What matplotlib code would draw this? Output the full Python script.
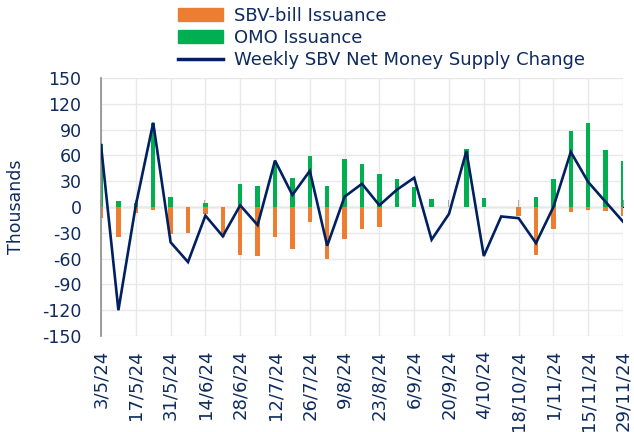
import matplotlib
matplotlib.use("Agg")
import matplotlib.pyplot as plt
from matplotlib.patches import Patch
from matplotlib.lines import Line2D

dates = ["3/5/24", "10/5/24", "17/5/24", "24/5/24", "31/5/24", "7/6/24", "14/6/24", "21/6/24",
         "28/6/24", "5/7/24", "12/7/24", "19/7/24", "26/7/24", "2/8/24", "9/8/24", "16/8/24",
         "23/8/24", "30/8/24", "6/9/24", "13/9/24", "20/9/24", "27/9/24", "4/10/24", "11/10/24",
         "18/10/24", "25/10/24", "1/11/24", "8/11/24", "15/11/24", "22/11/24", "29/11/24"]

sbv_bill = [-13, -35, -7, -4, -31, -30, -8, -35, -56, -57, -35, -49, -17, -60, -37, -26,
            -23, 0, 0, 0, 0, 0, 0, 0, -10, -56, -25, -6, -4, -5, -10]
omo = [73, 7, 5, 98, 12, 0, 5, 0, 27, 24, 52, 34, 59, 24, 56, 50,
       38, 33, 23, 9, 0, 67, 10, 0, 0, 12, 33, 88, 98, 66, 53]
net_change = [72, -120, 2, 98, -41, -64, -10, -34, 2, -21, 54, 14, 42, -45, 12, 27,
              2, 20, 34, -38, -8, 65, -57, -11, -13, -42, 0, 64, 29, 6, -17]

yticks = [150, 120, 90, 60, 30, 0, -30, -60, -90, -120, -150]

NAVY = "#002060"
ORANGE = "#ED7D31"
GREEN = "#00B050"
TEXT = "#0E2A5E"

plt.rcParams["font.family"] = ["DejaVu Sans"]

fig = plt.figure(figsize=(6.34, 4.32), dpi=100)
ax = fig.add_axes([101/634, 1 - 336/432, 522/634, 258/432])

x = list(range(len(dates)))
w = 0.25
ax.bar(x, sbv_bill, width=w, color=ORANGE, zorder=2)
ax.bar(x, omo, width=w, color=GREEN, zorder=2)
ax.plot(x, net_change, color=NAVY, lw=1.9, zorder=4, solid_joinstyle="miter")

ax.set_xlim(0, len(dates) - 1)
ax.set_ylim(-150, 150)
ax.set_yticks(yticks)
ax.set_yticklabels([str(v) for v in yticks], fontsize=12.5, color=TEXT)

ticks = x[::2]
ax.set_xticks(ticks)
ax.set_xticklabels([dates[i] for i in ticks], rotation=90, fontsize=13, color=TEXT, va="top")
ax.tick_params(axis="x", length=0, pad=10)
ax.tick_params(axis="y", length=0, pad=14)

ax.grid(True, color="#E8E8E8", lw=1.0, zorder=0)
ax.set_axisbelow(True)
for s in ["top", "right", "bottom"]:
    ax.spines[s].set_visible(False)
ax.spines["left"].set_color("#8C8C8C")
ax.spines["left"].set_linewidth(1.2)

# zero axis with tick marks
sec = ax.secondary_xaxis(0.5)
sec.set_xticks(ticks)
sec.set_xticklabels([])
sec.tick_params(axis="x", length=5, width=1.2, color="#8C8C8C", direction="out")
sec.spines["bottom"].set_color("#8C8C8C")
sec.spines["bottom"].set_linewidth(1.2)

ax.set_ylabel("Thousands", fontsize=12.5, color=TEXT)
ax.yaxis.set_label_coords(-76/522, 0.5)

handles = [Patch(facecolor=ORANGE, edgecolor=ORANGE),
           Patch(facecolor=GREEN, edgecolor=GREEN),
           Line2D([0], [0], color=NAVY, lw=2.5)]
labels = ["SBV-bill Issuance", "OMO Issuance", "Weekly SBV Net Money Supply Change"]
leg = fig.legend(handles, labels, loc="upper left", bbox_to_anchor=(178/634, 1 - 7/432),
                 frameon=False, fontsize=13, handlelength=2.5, handleheight=0.7,
                 labelspacing=0.22, handletextpad=0.6, borderpad=0, borderaxespad=0)
for t in leg.get_texts():
    t.set_color(TEXT)

fig.savefig("out.png", dpi=100)
